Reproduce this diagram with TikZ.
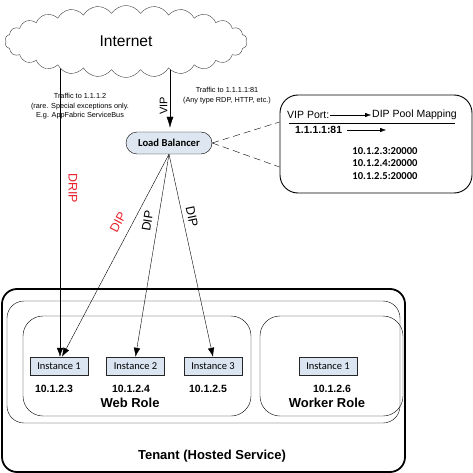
\documentclass[tikz,border=0pt]{standalone}
\usepackage{fontspec}
\setmainfont{Liberation Sans}
\newfontfamily\calfont{Carlito}
\usetikzlibrary{shapes.symbols,arrows.meta}
\definecolor{instfill}{HTML}{DBE5F1}
\definecolor{lbfill}{HTML}{DDE6F1}
\definecolor{dipred}{HTML}{E8202A}
\begin{document}
\begin{tikzpicture}[x=1pt,y=-1pt,
  inst/.style={draw=black!85, fill=instfill, minimum width=58pt, minimum height=18pt, inner sep=0pt, font=\calfont\fontsize{10.5}{12}\selectfont},
  rbox/.style={draw, inner sep=0pt},
  ip/.style={font=\bfseries\fontsize{10.5}{12}\selectfont, inner sep=0pt},
  role/.style={font=\bfseries\fontsize{13}{15}\selectfont, inner sep=0pt},
  tiny/.style={font=\fontsize{7.3}{9.5}\selectfont, align=center, inner sep=0pt},
  diplab/.style={font=\fontsize{12.5}{14}\selectfont, inner sep=0pt},
  arr/.style={-{Latex[length=9pt,width=6.5pt]}},
  maptxt/.style={font=\fontsize{10.5}{12}\selectfont, inner sep=1pt},
  mapip/.style={font=\calfont\bfseries\fontsize{10.6}{12.3}\selectfont, align=center, inner sep=0pt}
]
\useasboundingbox (0,0) rectangle (473,473);

% Tenant and role boxes
\node[rbox, line width=1.8pt, rounded corners=15pt, minimum width=403pt, minimum height=183pt] (tenant) at (203.5,380.5) {};
\node[rbox, rounded corners=17pt, minimum width=393pt, minimum height=122pt] (mid) at (203.5,362) {};
\node[rbox, rounded corners=20pt, minimum width=228pt, minimum height=100pt] (web) at (137,366) {};
\node[rbox, rounded corners=20pt, minimum width=143pt, minimum height=100pt] (worker) at (331.5,366) {};

\node[role] (tenantlbl) at (212,456) {Tenant (Hosted Service)};
\node[role] (weblbl) at (130,403) {Web Role};
\node[role] (workerlbl) at (327,403) {Worker Role};

% Instances
\node[inst] (i1) at (59,366) {Instance 1};
\node[inst] (i2) at (135.5,366) {Instance 2};
\node[inst] (i3) at (213,366) {Instance 3};
\node[inst] (w1) at (328,366) {Instance 1};

\node[ip] (ip1) at (54,389) {10.1.2.3};
\node[ip] (ip2) at (131,389) {10.1.2.4};
\node[ip] (ip3) at (208,389) {10.1.2.5};
\node[ip] (ip4) at (332,389) {10.1.2.6};

% Load balancer
\node[draw, fill=lbfill, rounded corners=11pt, minimum width=86pt, minimum height=22pt, inner sep=0pt,
      font=\calfont\bfseries\fontsize{10.6}{12}\selectfont] (lb) at (169,143) {Load Balancer};

% Mapping box
\node[rbox, line width=0.9pt, fill=white, rounded corners=18pt, minimum width=192pt, minimum height=98pt] (map) at (376,144) {};
\node[maptxt, anchor=west] (vp) at (286,115) {VIP Port:};
\node[maptxt, anchor=west] (dpm) at (371,115) {DIP Pool Mapping};
\draw[-{Latex[length=6pt,width=4.5pt]}] (vp.east) -- (dpm.west);
\draw (289,123) -- (455,123);
\node[maptxt, font=\bfseries\fontsize{10.4}{12}\selectfont, anchor=west] (vip81) at (294,130) {1.1.1.1:81};
\coordinate (vipend) at (386,130);
\draw[-{Latex[length=6pt,width=4.5pt]}] ([xshift=4pt]vip81.east) -- (vipend);
\node[mapip] (pool) at (385,163.5) {10.1.2.3:20000\\10.1.2.4:20000\\10.1.2.5:20000};

\draw[dashed, dash pattern=on 7pt off 4pt] (lb.east) -- ([yshift=22pt]map.west);
\draw[dashed, dash pattern=on 7pt off 4pt] (lb.east) -- ([yshift=-23pt]map.west);

% Connectors from internet
\coordinate (c1) at (60,45);
\coordinate (c2) at (170,45);
\draw[arr] (c1) -- (i1.north -| c1);
\draw[-{Latex[length=11pt,width=7pt]}, shorten >=4pt] (c2) -- (lb.north -| c2);
\draw[arr] (lb.south) -- ([xshift=3pt]i1.north);
\draw[arr] (lb.south) -- (i2.north);
\draw[arr] (lb.south) -- (i3.north);

% Labels on connectors
\node[diplab, text=dipred, rotate=-90] (drip) at (73,188) {DRIP};
\node[diplab, text=dipred, rotate=62] (dip1) at (118,222) {DIP};
\node[diplab, rotate=81] (dip2) at (147.5,221) {DIP};
\node[diplab, rotate=-78] (dip3) at (192,217) {DIP};
\node[font=\fontsize{11}{13}\selectfont, inner sep=0pt, rotate=90] (viplbl) at (163.5,106) {VIP};

\node[tiny] (t1) at (80,106.5) {Traffic to 1.1.1.2\\(rare. Special exceptions only.\\E.g. AppFabric ServiceBus};
\node[tiny] (t2) at (227,95.5) {Traffic to 1.1.1.1:81\\(Any type RDP, HTTP, etc.)};

% Cloud
\node[cloud, cloud puffs=26, cloud puff arc=115, aspect=3.4, draw=black!75, fill=white,
      minimum width=242pt, minimum height=72pt, inner sep=0pt,
      font=\fontsize{15.6}{18}\selectfont] (inet) at (126,41.5) {Internet};
\end{tikzpicture}
\end{document}
